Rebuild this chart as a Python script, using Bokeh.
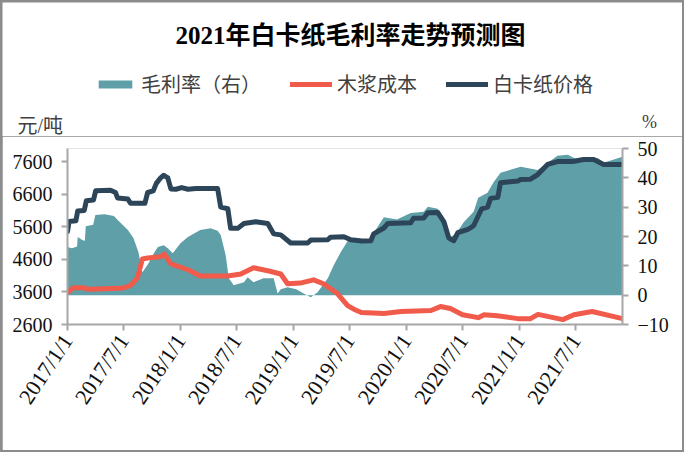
import pandas as pd
from bokeh.plotting import figure
from bokeh.models import (Range1d, LinearAxis, FixedTicker, Legend, LegendItem,
                          Label, ColumnDataSource, Column)
from bokeh.embed import file_html
from bokeh.resources import INLINE

# ---------------- data ----------------
title_text = "2021年白卡纸毛利率走势预测图"
series_names = ["毛利率（右）", "木浆成本", "白卡纸价格"]
left_unit = "元/吨"
right_unit = "%"

x_tick_dates = ["2017-01-01", "2017-07-01", "2018-01-01", "2018-07-01", "2019-01-01",
                "2019-07-01", "2020-01-01", "2020-07-01", "2021-01-01", "2021-07-01"]
x_tick_labels = ["2017/1/1", "2017/7/1", "2018/1/1", "2018/7/1", "2019/1/1",
                 "2019/7/1", "2020/1/1", "2020/7/1", "2021/1/1", "2021/7/1"]
left_ticks = [2600, 3600, 4600, 5600, 6600, 7600]
right_ticks = [-10, 0, 10, 20, 30, 40, 50]

price_dates = ["2017-01-01", "2017-01-06", "2017-01-28", "2017-02-03", "2017-02-24", "2017-03-03",
               "2017-03-26", "2017-04-02", "2017-05-20", "2017-06-05", "2017-06-12", "2017-07-15",
               "2017-07-24", "2017-09-08", "2017-09-17", "2017-10-05", "2017-10-15", "2017-10-29",
               "2017-11-08", "2017-11-21", "2017-12-01", "2017-12-17", "2018-01-05", "2018-01-25",
               "2018-02-20", "2018-05-01", "2018-05-11", "2018-06-03", "2018-06-12", "2018-07-05",
               "2018-07-25", "2018-09-01", "2018-10-10", "2018-10-29", "2018-11-21", "2018-12-23",
               "2019-02-16", "2019-02-26", "2019-04-22", "2019-05-01", "2019-06-13", "2019-07-05",
               "2019-08-10", "2019-09-08", "2019-09-17", "2019-10-20", "2019-11-02", "2020-01-15",
               "2020-01-24", "2020-02-26", "2020-03-10", "2020-04-11", "2020-05-01", "2020-05-17",
               "2020-06-02", "2020-06-15", "2020-07-20", "2020-08-05", "2020-08-31", "2020-09-19",
               "2020-09-29", "2020-10-22", "2020-10-31", "2020-12-26", "2021-01-04", "2021-02-05",
               "2021-02-28", "2021-04-01", "2021-05-03", "2021-06-22", "2021-07-26", "2021-08-28",
               "2021-09-29", "2021-11-29"]
price_values = [5450, 5760, 5780, 6080, 6100, 6400,
                6420, 6700, 6720, 6650, 6480, 6450,
                6320, 6320, 6650, 6700, 6930, 7100,
                7180, 7100, 6760, 6750, 6800, 6750,
                6770, 6770, 6200, 6150, 5550, 5550,
                5700, 5750, 5700, 5380, 5350, 5100,
                5100, 5190, 5200, 5280, 5290, 5200,
                5160, 5170, 5380, 5560, 5700, 5720,
                5860, 5870, 6030, 6040, 5750, 5250,
                5170, 5420, 5530, 5630, 6150, 6200,
                6470, 6500, 6950, 7000, 7050, 7060,
                7200, 7510, 7600, 7600, 7660, 7660,
                7510, 7510]

pulp_dates = ["2017-01-01", "2017-01-20", "2017-02-20", "2017-03-10", "2017-05-01", "2017-06-30",
              "2017-07-24", "2017-08-15", "2017-08-31", "2017-09-17", "2017-10-29", "2017-11-10",
              "2017-12-01", "2018-01-25", "2018-03-06", "2018-06-03", "2018-07-15", "2018-08-25",
              "2018-10-10", "2018-11-21", "2018-12-13", "2019-01-23", "2019-03-07", "2019-04-08",
              "2019-05-23", "2019-06-25", "2019-07-15", "2019-08-08", "2019-10-20", "2019-12-15",
              "2020-03-20", "2020-04-20", "2020-05-22", "2020-06-30", "2020-08-20", "2020-09-08",
              "2020-10-20", "2020-12-26", "2021-02-05", "2021-03-01", "2021-05-20", "2021-06-25",
              "2021-08-23", "2021-11-29"]
pulp_values = [3580, 3730, 3730, 3680, 3700, 3720,
               3800, 4030, 4610, 4640, 4680, 4760,
               4460, 4280, 4090, 4090, 4150, 4340,
               4250, 4150, 3850, 3870, 3970, 3850,
               3550, 3180, 3070, 2970, 2940, 3000,
               3030, 3150, 3090, 2900, 2810, 2900,
               2870, 2780, 2780, 2910, 2750, 2900,
               3000, 2780]

margin_dates = ["2017-01-01", "2017-01-15", "2017-02-01", "2017-02-03", "2017-02-15", "2017-02-26",
                "2017-03-01", "2017-03-25", "2017-04-01", "2017-05-01", "2017-05-31", "2017-06-12",
                "2017-07-15", "2017-08-02", "2017-08-18", "2017-08-31", "2017-09-20", "2017-10-08",
                "2017-10-20", "2017-11-08", "2017-11-21", "2017-12-07", "2018-01-01", "2018-01-25",
                "2018-03-06", "2018-04-08", "2018-05-01", "2018-05-11", "2018-05-27", "2018-06-06",
                "2018-06-22", "2018-07-25", "2018-08-06", "2018-08-25", "2018-09-26", "2018-10-29",
                "2018-11-11", "2018-11-21", "2018-12-13", "2019-01-10", "2019-02-03", "2019-02-26",
                "2019-03-20", "2019-04-22", "2019-05-11", "2019-06-03", "2019-06-25", "2019-08-08",
                "2019-09-08", "2019-09-17", "2019-10-20", "2019-12-01", "2020-01-15", "2020-02-26",
                "2020-03-10", "2020-04-11", "2020-05-01", "2020-05-22", "2020-06-10", "2020-07-04",
                "2020-08-05", "2020-08-20", "2020-09-19", "2020-10-09", "2020-10-31", "2021-01-04",
                "2021-02-28", "2021-05-03", "2021-06-05", "2021-07-07", "2021-09-10", "2021-09-29",
                "2021-11-29"]
margin_values = [16.4, 16.0, 16.6, 19.8, 19.0, 18.5,
                 23.5, 24.0, 27.3, 27.6, 27.0, 25.6,
                 22.2, 19.5, 14.7, 7.8, 10.9, 14.5,
                 16.4, 17.0, 16.0, 14.3, 17.7, 19.8,
                 22.2, 22.8, 22.0, 20.5, 13.6, 5.8,
                 3.4, 4.4, 6.1, 4.4, 5.8, 5.8,
                 0.6, 2.0, 2.7, 2.0, 0.6, -0.7,
                 1.0, 5.8, 10.2, 14.7, 18.5, 18.2,
                 18.5, 21.2, 26.6, 25.8, 28.0, 28.4,
                 30.1, 29.5, 25.6, 19.8, 21.0, 24.9,
                 28.4, 33.2, 34.9, 38.6, 41.7, 43.8,
                 42.7, 47.5, 47.9, 46.2, 46.8, 45.1,
                 47.2]

# ---------------- styling ----------------
TEAL = "#5E9FA8"
RED = "#F15B4B"
DARK = "#2D4558"
AXIS = "#A6A6A6"
FRAME_GRAY = "#8C8C8C"
SERIF = "Liberation Serif, Noto Sans CJK SC"
CJK = "Noto Sans CJK SC"

PAD = 2                       # outer grey border
IW, IH = 684 - 2 * PAD, 452 - 2 * PAD
HEAD_B = 136                  # window y where header ends
FL, FR, FT, FB = 67, 622, 148, 324   # plot frame in window pixels

# ---------------- header (title, legend, units) ----------------
HH = HEAD_B - PAD
head = figure(width=IW, height=HH, output_backend="svg", toolbar_location=None,
              title=None, x_axis_location=None, y_axis_location=None,
              x_range=Range1d(0, IW), y_range=Range1d(0, HH),
              min_border=0)
head.frame_align = False
head.outline_line_color = None
head.background_fill_color = "white"
head.border_fill_color = "white"
head.grid.visible = False

def hx(X):
    return X - PAD

def hy(Y):
    return HEAD_B - Y

head.add_layout(Label(x=hx(350), y=hy(35), text=title_text, text_font=SERIF,
                      text_font_size="25px", text_font_style="bold", text_color="#000000",
                      text_align="center", text_baseline="middle"))
head.add_layout(Label(x=hx(17), y=hy(125), text=left_unit, text_font=SERIF,
                      text_font_size="20px", text_color="#404040",
                      text_align="left", text_baseline="middle"))
head.add_layout(Label(x=hx(649), y=hy(121), text=right_unit, text_font=SERIF,
                      text_font_size="18px", text_color="#404040",
                      text_align="center", text_baseline="middle"))

# legend keys (single off-screen point each, so nothing is drawn in the header itself)
k_m = head.varea(x=[-50], y1=[-50], y2=[-50], fill_color=TEAL)
k_p = head.line(x=[-50], y=[-50], line_color=RED, line_width=5, line_cap="round")
k_w = head.line(x=[-50], y=[-50], line_color=DARK, line_width=5, line_cap="round")
legend = Legend(items=[LegendItem(label=series_names[0], renderers=[k_m]),
                       LegendItem(label=series_names[1], renderers=[k_p]),
                       LegendItem(label=series_names[2], renderers=[k_w])],
                orientation="horizontal", location=(hx(94), hy(98)),
                padding=0, margin=0, spacing=29, label_standoff=5,
                glyph_width=42, glyph_height=10,
                label_text_font=CJK, label_text_font_size="20px",
                label_text_color="#404040",
                background_fill_alpha=0, border_line_color=None)
head.add_layout(legend)

# ---------------- main plot ----------------
x_start = pd.Timestamp("2017-01-01")
x_end = pd.Timestamp("2021-11-29")
ms = lambda t: pd.Timestamp(t).value / 1e6

p = figure(width=IW, height=IH - HH, x_axis_type="datetime", output_backend="svg",
           toolbar_location=None, title=None,
           x_range=Range1d(ms(x_start), ms(x_end)), y_range=Range1d(2600, 8000),
           min_border_left=FL - PAD, min_border_right=684 - PAD - FR,
           min_border_top=FT - HEAD_B, min_border_bottom=452 - PAD - FB)
p.frame_align = False
p.extra_y_ranges = {"right": Range1d(-10, 50)}
p.outline_line_color = None
p.background_fill_color = "white"
p.border_fill_color = "white"
p.xgrid.visible = False
p.ygrid.visible = False

src_m = ColumnDataSource(dict(x=pd.to_datetime(margin_dates), y=margin_values))
src_p = ColumnDataSource(dict(x=pd.to_datetime(pulp_dates), y=pulp_values))
src_w = ColumnDataSource(dict(x=pd.to_datetime(price_dates), y=price_values))

p.varea(x="x", y1=0, y2="y", source=src_m, y_range_name="right", fill_color=TEAL)
p.line(x="x", y="y", source=src_p, line_color=RED, line_width=5,
       line_join="round", line_cap="round")
p.line(x="x", y="y", source=src_w, line_color=DARK, line_width=5,
       line_join="round", line_cap="round")

def style_axis(ax, size="20px"):
    ax.axis_line_color = AXIS
    ax.axis_line_width = 2
    ax.major_tick_line_color = AXIS
    ax.major_tick_line_width = 2
    ax.major_tick_out = 6
    ax.major_tick_in = 0
    ax.minor_tick_line_color = None
    ax.major_label_text_font = SERIF
    ax.major_label_text_font_size = size
    ax.major_label_text_color = "#111111"

yl = p.yaxis[0]
yl.ticker = FixedTicker(ticks=left_ticks)
style_axis(yl)
yl.major_label_standoff = 9

yr = LinearAxis(y_range_name="right", ticker=FixedTicker(ticks=right_ticks))
style_axis(yr)
yr.major_label_standoff = 9
p.add_layout(yr, "right")

xa = p.xaxis[0]
tick_ms = [int(ms(d)) for d in x_tick_dates]
xa.ticker = FixedTicker(ticks=tick_ms)
xa.major_label_overrides = {t: lab for t, lab in zip(tick_ms, x_tick_labels)}
style_axis(xa, "22px")
xa.major_label_orientation = 0.98
xa.major_label_standoff = 6

page = Column(children=[head, p], spacing=0,
              styles={"background-color": FRAME_GRAY, "padding": f"{PAD}px"})

open("out.html", "w").write(file_html(page, INLINE))
